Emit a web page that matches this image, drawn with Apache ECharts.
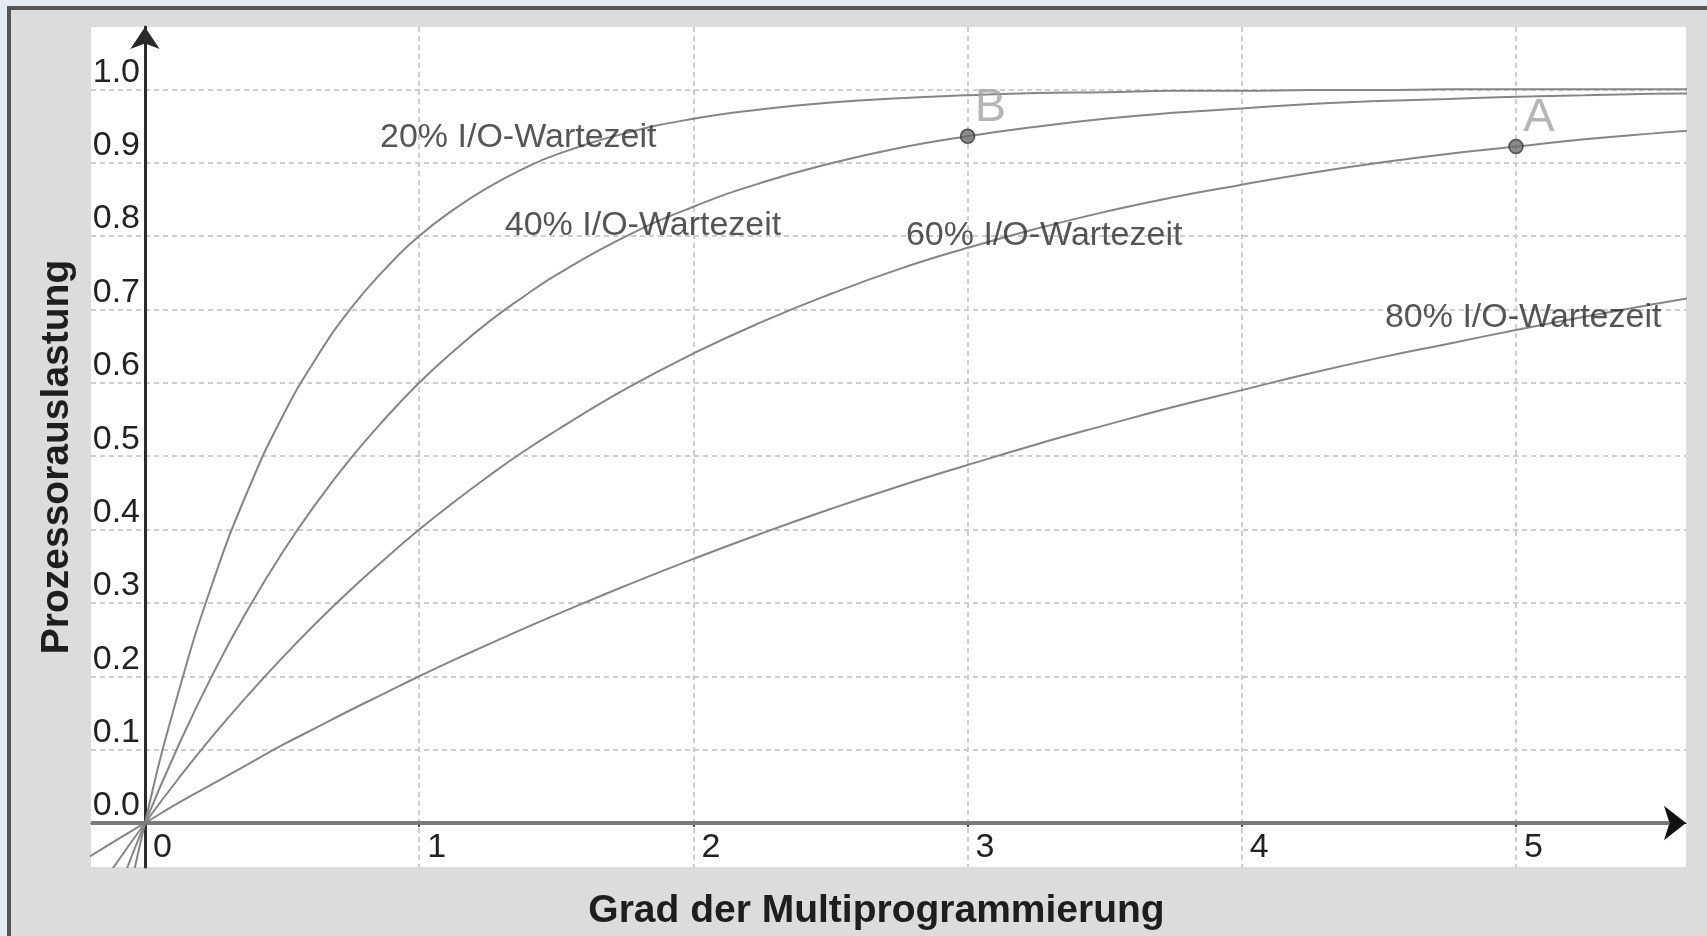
<!DOCTYPE html>
<html>
<head>
<meta charset="utf-8">
<title>Prozessorauslastung</title>
<script src="https://cdn.jsdelivr.net/npm/echarts@6/dist/echarts.min.js"></script>
<style>
  html, body { margin: 0; padding: 0; width: 1707px; height: 936px; overflow: hidden; background: #e5ecf1; }
  #panel { position: absolute; left: 7px; top: 6px; width: 1700px; height: 930px; box-sizing: border-box;
           border-left: 4px solid #555; border-top: 4px solid #555; background: #dcdcdc; }
  #chart { position: absolute; left: 0; top: 0; width: 1707px; height: 936px; }
</style>
</head>
<body>
<div id="panel"></div>
<div id="chart"></div>
<script>
const degree = [-0.25, -0.125, 0, 0.125, 0.25, 0.375, 0.5, 0.625, 0.75, 0.875, 1, 1.125, 1.25, 1.375, 1.5,
                1.75, 2, 2.25, 2.5, 2.75, 3, 3.25, 3.5, 3.75, 4, 4.25, 4.5, 4.75, 5, 5.25, 5.5, 5.75];
// Prozessorauslastung je Kurve
const io20 = [-0.495, -0.223, 0, 0.182, 0.331, 0.453, 0.553, 0.634, 0.701, 0.755, 0.800, 0.836, 0.866, 0.891, 0.911,
              0.940, 0.960, 0.973, 0.982, 0.988, 0.992, 0.995, 0.996, 0.998, 0.998, 0.999, 0.999, 1.000, 1.000, 1.000, 1.000, 1.000];
const io40 = [-0.257, -0.121, 0, 0.108, 0.205, 0.291, 0.368, 0.436, 0.497, 0.551, 0.600, 0.643, 0.682, 0.716, 0.747,
              0.799, 0.840, 0.873, 0.899, 0.920, 0.936, 0.949, 0.960, 0.968, 0.974, 0.980, 0.984, 0.987, 0.990, 0.992, 0.994, 0.995];
const io60 = [-0.136, -0.066, 0, 0.062, 0.120, 0.174, 0.225, 0.273, 0.318, 0.360, 0.400, 0.437, 0.472, 0.505, 0.535,
              0.591, 0.640, 0.683, 0.721, 0.755, 0.784, 0.810, 0.833, 0.853, 0.870, 0.886, 0.900, 0.912, 0.922, 0.932, 0.940, 0.947];
const io80 = [-0.057, -0.028, 0, 0.028, 0.054, 0.080, 0.106, 0.130, 0.154, 0.177, 0.200, 0.222, 0.243, 0.264, 0.284,
              0.323, 0.360, 0.395, 0.428, 0.459, 0.488, 0.516, 0.542, 0.567, 0.590, 0.613, 0.634, 0.653, 0.672, 0.690, 0.707, 0.723];
const curveNames = ['20% I/O-Wartezeit', '40% I/O-Wartezeit', '60% I/O-Wartezeit', '80% I/O-Wartezeit'];
// wo die Kurvenbeschriftungen stehen (Datenkoordinaten)
const curveLabelAt = [[0.857, 0.934], [1.312, 0.814], [2.775, 0.800], [4.522, 0.689]];
// markierte Punkte B und A
const pointNames = ['B', 'A'];
const pointValues = [[3, 0.936], [5, 0.922]];
// Achsenbeschriftungen
const xTicks = [0, 1, 2, 3, 4, 5];
const yTicks = [0, 0.1, 0.2, 0.3, 0.4, 0.5, 0.6, 0.7, 0.8, 0.9, 1.0];

const font = '"Liberation Sans", Arial, sans-serif';
const curves = [io20, io40, io60, io80];

const chart = echarts.init(document.getElementById('chart'));

const series = curves.map((vals, i) => ({
    name: curveNames[i],
    type: 'line',
    data: degree.map((x, j) => [x, vals[j]]),
    smooth: 0.5,
    showSymbol: false,
    silent: true,
    lineStyle: { color: '#858585', width: 2 },
    z: 3
}));

// dicke graue x-Achse (endet vor dem Pfeil)
series[3].markLine = {
    silent: true,
    symbol: 'none',
    label: { show: false },
    lineStyle: { color: '#7a7a7a', width: 4, type: 'solid' },
    data: [[{ coord: [-0.197, 0] }, { coord: [5.56, 0] }]]
};

series.push({
    type: 'scatter',
    silent: true,
    symbolSize: 0,
    data: curveLabelAt.map((p, i) => ({ value: p, name: curveNames[i] })),
    itemStyle: { color: 'transparent' },
    label: {
        show: true,
        position: 'right',
        distance: 0,
        formatter: p => p.name,
        fontFamily: font,
        fontSize: 34,
        color: '#2a2a2a'
    },
    z: 4
});

series.push({
    type: 'scatter',
    silent: true,
    symbol: 'circle',
    symbolSize: 14,
    data: pointValues.map((p, i) => ({ value: p, name: pointNames[i] })),
    itemStyle: { color: '#6b6b6b', borderColor: '#333', borderWidth: 1.5 },
    label: {
        show: true,
        position: [15, 3],
        align: 'left',
        verticalAlign: 'bottom',
        formatter: p => p.name,
        fontFamily: font,
        fontSize: 47,
        color: '#a3a3a3'
    },
    z: 5
});

const gridLine = { show: true, lineStyle: { color: '#cdcdcd', width: 2, type: [5, 4] } };

chart.setOption({
    backgroundColor: 'transparent',
    animation: false,
    grid: {
        left: 91, top: 27, width: 1595, height: 840,
        outerBoundsMode: 'none', containLabel: false,
        show: true, backgroundColor: '#ffffff', borderWidth: 0
    },
    xAxis: {
        type: 'value',
        min: -0.197,
        max: 5.62,
        offset: -44,   // Achse liegt auf y = 0
        name: 'Grad der Multiprogrammierung',
        nameLocation: 'middle',
        nameGap: 69,
        nameTextStyle: { fontFamily: font, fontSize: 39, fontWeight: 'bold', color: '#1e1e1e', padding: [0, 24, 0, 0] },
        axisLine: {
            onZero: false,
            symbol: ['none', 'arrow'],
            symbolSize: [26, 22],
            lineStyle: { color: '#111', width: 1 }
        },
        axisTick: { show: true, customValues: xTicks, length: 4, lineStyle: { color: '#444', width: 2 } },
        axisLabel: {
            customValues: xTicks,
            formatter: v => String(v),
            align: 'left',
            margin: 8,
            padding: [0, 0, 0, 8],
            fontFamily: font,
            fontSize: 34,
            color: '#222'
        },
        splitLine: gridLine
    },
    yAxis: {
        type: 'value',
        min: -0.06,
        max: 1.085,
        offset: -54,   // Achse liegt auf x = 0
        name: 'Prozessorauslastung',
        nameLocation: 'middle',
        nameRotate: 90,
        nameGap: 68,
        nameTextStyle: { fontFamily: font, fontSize: 39, fontWeight: 'bold', color: '#1e1e1e', padding: [0, 20, 0, 0] },
        axisLine: {
            onZero: false,
            symbol: ['none', 'arrow'],
            symbolSize: [22, 22],
            lineStyle: { color: '#2a2a2a', width: 3 }
        },
        axisTick: { show: false, customValues: yTicks },
        axisLabel: {
            customValues: yTicks,
            formatter: v => v.toFixed(1),
            verticalAlign: 'bottom',
            margin: 5,
            fontFamily: font,
            fontSize: 34,
            color: '#222'
        },
        splitLine: gridLine
    },
    series: series
});
</script>
</body>
</html>
